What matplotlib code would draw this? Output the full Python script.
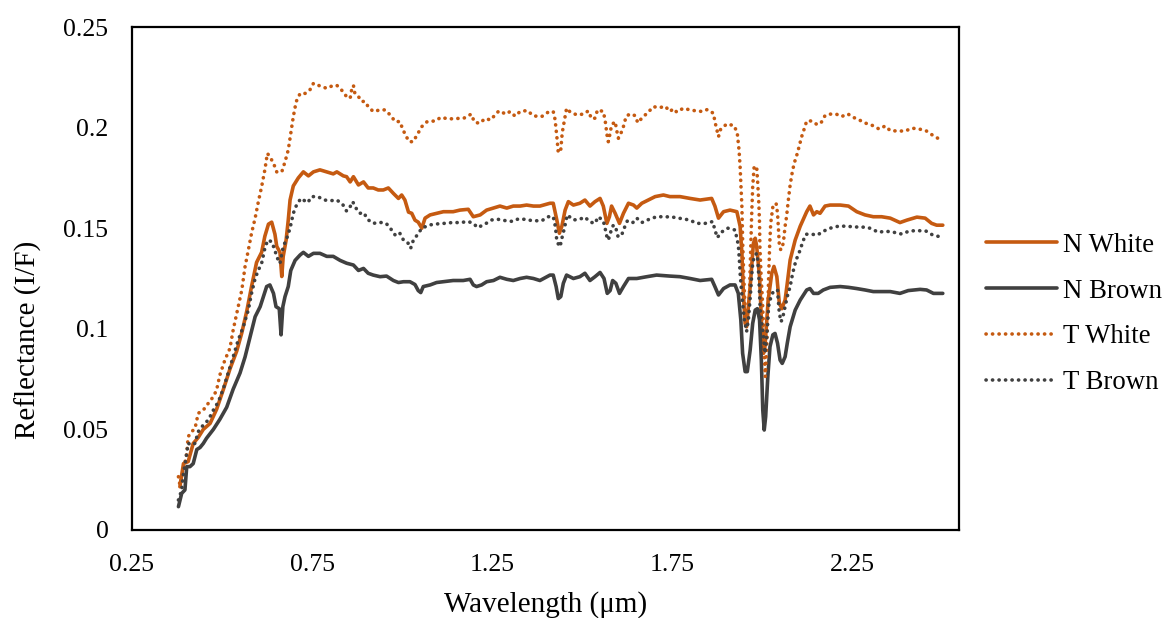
import matplotlib
matplotlib.use("Agg")
import matplotlib.pyplot as plt

# ---- data: (wavelength µm, reflectance I/F) ----
n_white = [(0.383,0.0215),(0.393,0.033),(0.406,0.034),(0.420,0.043),(0.434,0.046),(0.448,0.050),(0.467,0.053),(0.485,0.060),(0.504,0.070),(0.522,0.080),(0.541,0.089),(0.555,0.098),(0.569,0.109),(0.582,0.121),(0.596,0.133),(0.610,0.138),(0.619,0.146),(0.629,0.152),(0.638,0.153),(0.647,0.147),(0.652,0.141),(0.661,0.138),(0.666,0.126),(0.670,0.136),(0.678,0.144),(0.684,0.154),(0.689,0.164),(0.698,0.171),(0.712,0.175),(0.726,0.178),(0.740,0.176),(0.754,0.178),(0.772,0.179),(0.791,0.178),(0.809,0.177),(0.819,0.178),(0.837,0.176),(0.846,0.1756),(0.856,0.173),(0.865,0.1756),(0.879,0.1715),(0.893,0.173),(0.906,0.170),(0.920,0.170),(0.934,0.169),(0.948,0.169),(0.962,0.170),(0.976,0.1673),(0.990,0.1648),(0.999,0.1665),(1.008,0.164),(1.018,0.158),(1.027,0.1574),(1.036,0.154),(1.045,0.153),(1.055,0.150),(1.064,0.155),(1.078,0.1566),(1.096,0.1574),(1.115,0.1582),(1.142,0.1582),(1.161,0.159),(1.184,0.1594),(1.198,0.1557),(1.217,0.1566),(1.235,0.159),(1.254,0.160),(1.272,0.161),(1.291,0.160),(1.309,0.161),(1.328,0.161),(1.346,0.1615),(1.365,0.161),(1.383,0.161),(1.411,0.1624),(1.420,0.1624),(1.430,0.154),(1.437,0.1475),(1.444,0.151),(1.453,0.159),(1.462,0.1632),(1.476,0.1615),(1.494,0.1624),(1.508,0.164),(1.522,0.161),(1.536,0.1632),(1.550,0.1648),(1.559,0.161),(1.569,0.1524),(1.576,0.1557),(1.582,0.161),(1.592,0.1574),(1.604,0.1524),(1.615,0.1574),(1.629,0.1624),(1.643,0.1615),(1.652,0.160),(1.666,0.1624),(1.684,0.164),(1.703,0.1657),(1.726,0.1665),(1.744,0.1657),(1.772,0.1657),(1.800,0.1648),(1.828,0.164),(1.860,0.1648),(1.869,0.161),(1.879,0.155),(1.893,0.1582),(1.911,0.159),(1.930,0.1582),(1.939,0.151),(1.944,0.1375),(1.948,0.1176),(1.953,0.1027),(1.957,0.101),(1.967,0.121),(1.976,0.1425),(1.981,0.145),(1.985,0.141),(1.993,0.126),(1.999,0.101),(2.004,0.0878),(2.008,0.0911),(2.017,0.1143),(2.027,0.1276),(2.033,0.131),(2.041,0.126),(2.048,0.1127),(2.055,0.110),(2.064,0.1143),(2.070,0.1226),(2.078,0.1342),(2.092,0.1441),(2.106,0.151),(2.124,0.1582),(2.133,0.161),(2.143,0.1566),(2.152,0.1582),(2.161,0.1574),(2.175,0.161),(2.189,0.1615),(2.217,0.1615),(2.240,0.161),(2.263,0.1582),(2.286,0.1566),(2.309,0.1557),(2.332,0.1557),(2.356,0.155),(2.383,0.1528),(2.402,0.154),(2.430,0.1555),(2.453,0.155),(2.471,0.1524),(2.485,0.1515),(2.502,0.1515)]

n_brown = [(0.379,0.0116),(0.388,0.0182),(0.397,0.0199),(0.402,0.0315),(0.411,0.0315),(0.420,0.033),(0.430,0.040),(0.439,0.041),(0.448,0.043),(0.457,0.0456),(0.476,0.050),(0.494,0.055),(0.513,0.061),(0.531,0.070),(0.550,0.078),(0.564,0.086),(0.578,0.096),(0.592,0.106),(0.606,0.111),(0.615,0.116),(0.624,0.121),(0.633,0.1218),(0.643,0.1176),(0.650,0.111),(0.659,0.110),(0.664,0.097),(0.669,0.111),(0.675,0.116),(0.684,0.121),(0.691,0.129),(0.703,0.134),(0.717,0.1367),(0.726,0.138),(0.740,0.136),(0.754,0.1375),(0.772,0.1375),(0.791,0.136),(0.809,0.136),(0.828,0.134),(0.846,0.1326),(0.865,0.1317),(0.879,0.129),(0.893,0.130),(0.906,0.1276),(0.920,0.1267),(0.939,0.1259),(0.957,0.1262),(0.976,0.124),(0.990,0.123),(1.004,0.1234),(1.022,0.1234),(1.036,0.122),(1.045,0.119),(1.052,0.118),(1.059,0.121),(1.078,0.1218),(1.096,0.123),(1.115,0.1234),(1.142,0.124),(1.170,0.124),(1.189,0.1246),(1.198,0.1218),(1.207,0.121),(1.221,0.1218),(1.235,0.1234),(1.254,0.124),(1.272,0.1256),(1.291,0.1246),(1.309,0.124),(1.328,0.125),(1.346,0.1256),(1.365,0.125),(1.383,0.124),(1.411,0.1267),(1.420,0.1267),(1.428,0.121),(1.434,0.115),(1.441,0.116),(1.448,0.1226),(1.457,0.1267),(1.476,0.125),(1.494,0.1259),(1.508,0.1276),(1.522,0.124),(1.536,0.1259),(1.550,0.128),(1.561,0.125),(1.570,0.1176),(1.578,0.119),(1.585,0.124),(1.594,0.1226),(1.604,0.1176),(1.615,0.121),(1.629,0.125),(1.652,0.125),(1.680,0.1259),(1.707,0.1267),(1.744,0.1262),(1.772,0.1259),(1.800,0.125),(1.828,0.124),(1.860,0.1246),(1.869,0.121),(1.879,0.1168),(1.893,0.120),(1.911,0.1218),(1.925,0.1218),(1.934,0.1176),(1.941,0.1044),(1.946,0.0878),(1.953,0.0787),(1.959,0.0787),(1.967,0.0895),(1.974,0.1027),(1.981,0.1093),(1.987,0.110),(1.993,0.1044),(1.998,0.0845),(2.002,0.0596),(2.006,0.0497),(2.010,0.0563),(2.016,0.0762),(2.022,0.0911),(2.030,0.097),(2.036,0.0977),(2.043,0.0928),(2.050,0.0845),(2.056,0.0828),(2.064,0.0861),(2.070,0.0928),(2.078,0.101),(2.092,0.1093),(2.106,0.1143),(2.124,0.1193),(2.133,0.120),(2.143,0.1176),(2.156,0.1176),(2.170,0.1193),(2.189,0.1206),(2.217,0.121),(2.240,0.1206),(2.263,0.120),(2.286,0.1193),(2.309,0.1185),(2.332,0.1185),(2.356,0.1185),(2.383,0.1176),(2.406,0.119),(2.439,0.1196),(2.457,0.1193),(2.476,0.1176),(2.502,0.1176)]

t_white = [(0.379,0.0265),(0.383,0.0224),(0.393,0.0298),(0.402,0.038),(0.406,0.0464),(0.416,0.0489),(0.425,0.0505),(0.434,0.058),(0.448,0.0596),(0.462,0.063),(0.476,0.0663),(0.485,0.0696),(0.494,0.077),(0.508,0.0845),(0.522,0.0903),(0.531,0.0994),(0.545,0.111),(0.555,0.1193),(0.564,0.1309),(0.573,0.139),(0.582,0.1475),(0.592,0.155),(0.601,0.1632),(0.610,0.1706),(0.619,0.179),(0.626,0.1872),(0.633,0.1855),(0.643,0.1823),(0.652,0.178),(0.666,0.178),(0.675,0.183),(0.684,0.1889),(0.691,0.197),(0.698,0.2054),(0.706,0.2129),(0.717,0.217),(0.731,0.217),(0.744,0.2187),(0.754,0.222),(0.772,0.2207),(0.791,0.2195),(0.809,0.221),(0.819,0.221),(0.832,0.2187),(0.846,0.2154),(0.856,0.2146),(0.860,0.2187),(0.865,0.221),(0.869,0.217),(0.879,0.2154),(0.888,0.213),(0.897,0.213),(0.906,0.2104),(0.920,0.208),(0.939,0.2088),(0.953,0.2088),(0.967,0.2063),(0.981,0.203),(0.994,0.203),(1.002,0.1992),(1.011,0.1958),(1.020,0.193),(1.031,0.193),(1.043,0.1968),(1.055,0.2005),(1.070,0.203),(1.092,0.2033),(1.108,0.2051),(1.129,0.2043),(1.150,0.2045),(1.172,0.2047),(1.192,0.2067),(1.201,0.2028),(1.215,0.2021),(1.231,0.2045),(1.246,0.2038),(1.256,0.2058),(1.269,0.2083),(1.289,0.2067),(1.300,0.208),(1.314,0.2057),(1.328,0.208),(1.348,0.2085),(1.365,0.2058),(1.388,0.2055),(1.406,0.2077),(1.420,0.208),(1.425,0.2041),(1.430,0.1955),(1.434,0.1875),(1.441,0.1892),(1.445,0.1975),(1.453,0.2055),(1.457,0.2096),(1.469,0.2074),(1.487,0.2063),(1.506,0.2068),(1.517,0.2083),(1.527,0.2043),(1.536,0.2047),(1.543,0.2088),(1.559,0.208),(1.564,0.2038),(1.570,0.1955),(1.573,0.193),(1.578,0.1972),(1.582,0.2013),(1.592,0.203),(1.596,0.1988),(1.601,0.1947),(1.610,0.198),(1.617,0.2016),(1.622,0.2055),(1.633,0.2068),(1.647,0.206),(1.655,0.2024),(1.667,0.2049),(1.684,0.2077),(1.698,0.2104),(1.715,0.2099),(1.731,0.2106),(1.744,0.208),(1.754,0.2094),(1.763,0.2077),(1.781,0.2096),(1.800,0.2088),(1.817,0.2083),(1.835,0.208),(1.848,0.209),(1.865,0.2071),(1.869,0.203),(1.879,0.1955),(1.885,0.1992),(1.902,0.2018),(1.922,0.201),(1.931,0.1975),(1.936,0.1889),(1.939,0.1806),(1.942,0.169),(1.944,0.1607),(1.945,0.1524),(1.946,0.1441),(1.948,0.1326),(1.951,0.1176),(1.955,0.1044),(1.959,0.1027),(1.965,0.1176),(1.968,0.1375),(1.971,0.1557),(1.974,0.1706),(1.978,0.1806),(1.985,0.1806),(1.988,0.1723),(1.991,0.1624),(1.993,0.1524),(1.994,0.1408),(1.997,0.1276),(2.001,0.1143),(2.004,0.101),(2.006,0.0878),(2.009,0.0762),(2.013,0.0911),(2.016,0.1077),(2.018,0.1243),(2.021,0.1408),(2.024,0.1524),(2.030,0.1607),(2.039,0.1624),(2.043,0.1574),(2.045,0.151),(2.048,0.1417),(2.052,0.1392),(2.059,0.1425),(2.064,0.151),(2.068,0.1557),(2.073,0.164),(2.078,0.1715),(2.085,0.179),(2.092,0.1839),(2.098,0.1872),(2.104,0.1914),(2.110,0.1955),(2.117,0.1993),(2.124,0.2033),(2.138,0.2033),(2.152,0.2016),(2.163,0.2021),(2.175,0.206),(2.189,0.2067),(2.206,0.2067),(2.221,0.2055),(2.238,0.2068),(2.256,0.2049),(2.270,0.2038),(2.286,0.2023),(2.306,0.2011),(2.325,0.1993),(2.342,0.2008),(2.356,0.1985),(2.376,0.1983),(2.397,0.1983),(2.417,0.1997),(2.436,0.1993),(2.455,0.1985),(2.473,0.1963),(2.492,0.1943)]

t_brown = [(0.379,0.0149),(0.388,0.0199),(0.393,0.0282),(0.400,0.0356),(0.406,0.0431),(0.416,0.0422),(0.425,0.0431),(0.434,0.0489),(0.448,0.0522),(0.462,0.0547),(0.476,0.0596),(0.490,0.0638),(0.504,0.0704),(0.517,0.0779),(0.531,0.0861),(0.545,0.0944),(0.559,0.101),(0.573,0.1093),(0.582,0.1176),(0.592,0.125),(0.601,0.1292),(0.610,0.1325),(0.619,0.140),(0.627,0.1441),(0.638,0.1433),(0.647,0.139),(0.652,0.1358),(0.661,0.1325),(0.670,0.1408),(0.680,0.145),(0.689,0.150),(0.698,0.1574),(0.707,0.1615),(0.719,0.1648),(0.738,0.1627),(0.749,0.1657),(0.766,0.1657),(0.784,0.164),(0.803,0.1637),(0.819,0.164),(0.835,0.1619),(0.846,0.1585),(0.856,0.1607),(0.863,0.1632),(0.872,0.160),(0.883,0.1574),(0.894,0.1577),(0.904,0.1544),(0.920,0.1524),(0.939,0.1529),(0.956,0.1524),(0.969,0.1496),(0.981,0.1466),(0.993,0.1478),(1.004,0.1441),(1.016,0.1428),(1.024,0.140),(1.031,0.1438),(1.044,0.1471),(1.055,0.150),(1.076,0.1516),(1.096,0.1521),(1.117,0.1524),(1.139,0.1528),(1.161,0.1528),(1.184,0.1533),(1.198,0.1524),(1.210,0.1503),(1.231,0.1521),(1.249,0.1541),(1.267,0.1544),(1.289,0.1537),(1.306,0.1534),(1.323,0.1546),(1.342,0.1544),(1.363,0.1537),(1.388,0.1537),(1.406,0.1557),(1.420,0.1557),(1.425,0.1516),(1.428,0.1475),(1.430,0.1433),(1.439,0.1408),(1.444,0.145),(1.451,0.150),(1.459,0.1566),(1.476,0.1541),(1.493,0.1544),(1.508,0.1555),(1.522,0.1531),(1.536,0.1524),(1.545,0.1557),(1.559,0.1537),(1.564,0.150),(1.569,0.1458),(1.573,0.1441),(1.580,0.1483),(1.587,0.1516),(1.594,0.150),(1.600,0.1458),(1.610,0.1466),(1.617,0.150),(1.626,0.1537),(1.641,0.1528),(1.652,0.155),(1.666,0.1528),(1.686,0.1544),(1.707,0.1557),(1.731,0.1557),(1.752,0.1555),(1.775,0.1548),(1.798,0.1541),(1.819,0.1524),(1.842,0.1524),(1.863,0.1533),(1.869,0.1491),(1.876,0.1453),(1.885,0.1478),(1.905,0.150),(1.925,0.1491),(1.934,0.1417),(1.937,0.1342),(1.939,0.1276),(1.942,0.121),(1.945,0.1143),(1.951,0.1044),(1.957,0.0986),(1.962,0.1044),(1.965,0.111),(1.968,0.1176),(1.971,0.126),(1.974,0.1326),(1.978,0.1358),(1.985,0.1375),(1.988,0.1342),(1.991,0.126),(1.993,0.1176),(1.995,0.1093),(1.999,0.1027),(2.004,0.0961),(2.008,0.0878),(2.013,0.0961),(2.016,0.1044),(2.018,0.111),(2.022,0.1143),(2.031,0.1185),(2.043,0.1193),(2.045,0.1143),(2.048,0.1077),(2.053,0.1035),(2.059,0.1069),(2.064,0.111),(2.070,0.116),(2.078,0.121),(2.085,0.1276),(2.092,0.1325),(2.098,0.1358),(2.106,0.1392),(2.113,0.1433),(2.122,0.147),(2.138,0.147),(2.154,0.1466),(2.168,0.1483),(2.189,0.150),(2.212,0.151),(2.235,0.151),(2.256,0.1506),(2.278,0.1506),(2.300,0.150),(2.323,0.148),(2.344,0.1485),(2.365,0.148),(2.388,0.1471),(2.409,0.1486),(2.431,0.1488),(2.455,0.1486),(2.474,0.1466),(2.493,0.1458)]

series_names = ["N White", "N Brown", "T White", "T Brown"]
x_ticks = [0.25, 0.75, 1.25, 1.75, 2.25]
x_tick_labels = ["0.25", "0.75", "1.25", "1.75", "2.25"]
y_ticks = [0, 0.05, 0.1, 0.15, 0.2, 0.25]
y_tick_labels = ["0", "0.05", "0.1", "0.15", "0.2", "0.25"]

ORANGE = "#C55A11"
DARK = "#404040"

plt.rcParams['font.family'] = ['Liberation Serif', 'DejaVu Serif']

fig = plt.figure(figsize=(11.63, 6.18), dpi=100)
ax = fig.add_axes([132/1163, 1-530/618, (959-132)/1163, (530-27)/618])

lw = 2.6
dot = (0, (0.05, 1.75))
styles = [
    dict(color=ORANGE, lw=lw, ls='-', solid_joinstyle='round', solid_capstyle='round'),
    dict(color=DARK, lw=lw, ls='-', solid_joinstyle='round', solid_capstyle='round'),
    dict(color=ORANGE, lw=lw, ls=dot, dash_capstyle='round'),
    dict(color=DARK, lw=lw, ls=dot, dash_capstyle='round'),
]
for name, data, st in zip(series_names, [n_white, n_brown, t_white, t_brown], styles):
    xs = [p[0] for p in data]
    ys = [p[1] for p in data]
    ax.plot(xs, ys, label=name, **st)

ax.set_xlim(0.25, 2.547)
ax.set_ylim(0, 0.25)
ax.set_xticks(x_ticks)
ax.set_xticklabels(x_tick_labels)
ax.set_yticks(y_ticks)
ax.set_yticklabels(y_tick_labels)
ax.tick_params(axis='both', length=0, labelsize=18.5, colors='black')
ax.tick_params(axis='x', pad=17)
ax.tick_params(axis='y', pad=17)
for sp in ax.spines.values():
    sp.set_linewidth(1.6)
    sp.set_color('black')

ax.set_xlabel("Wavelength (μm)", fontsize=21, labelpad=11)
ax.set_ylabel("Reflectance (I/F)", fontsize=21, va='center', ha='center')
ax.yaxis.set_label_coords((28-132)/827, (530-340)/503)

fig.legend(loc='center left', bbox_to_anchor=(986/1163, 1-314/618), frameon=False,
           fontsize=19.3, handlelength=2.65, handletextpad=0.23, labelspacing=0.78,
           borderaxespad=0, borderpad=0)

fig.savefig("out.png", dpi=100)
